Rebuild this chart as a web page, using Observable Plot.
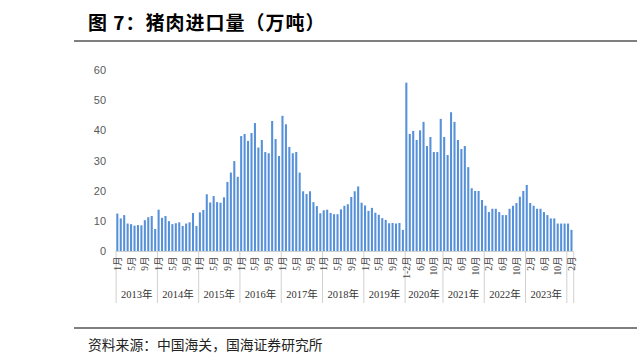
<!DOCTYPE html>
<html>
<head>
<meta charset="utf-8">
<script src="https://cdn.jsdelivr.net/npm/d3@7"></script>
<script src="https://cdn.jsdelivr.net/npm/@observablehq/plot@0.6"></script>
<style>
  html, body { margin: 0; padding: 0; background: #fff; }
  #wrap { position: relative; width: 637px; height: 361px; overflow: hidden; }
  #title { position: absolute; left: 88px; top: 8px; font: bold 19px "Noto Sans CJK SC", sans-serif; letter-spacing: 1px; color: #000; white-space: nowrap; }
  #source { position: absolute; left: 88px; top: 334px; font: 13.8px "Noto Sans CJK SC", sans-serif; color: #222; white-space: nowrap; }
  .hr { position: absolute; left: 74px; width: 563px; height: 0; border-top: 2px solid #7f7f7f; }
  #chart { position: absolute; left: 0; top: 0; }
</style>
</head>
<body>
<div id="wrap">
  <div id="title">图 7：猪肉进口量（万吨）</div>
  <div class="hr" style="top:40px"></div>
  <div id="chart"></div>
  <div class="hr" style="top:327px"></div>
  <div id="source">资料来源：中国海关，国海证券研究所</div>
</div>
<script>
// Year groups and the period labels within each
const years = ["2013年","2014年","2015年","2016年","2017年","2018年","2019年","2020年","2021年","2022年","2023年","2024年"];
const monthsFull = ["1月","2月","3月","4月","5月","6月","7月","8月","9月","10月","11月","12月"];
const months2020 = ["1-2月","3月","4月","5月","6月","7月","8月","9月","10月","11月","12月"];
const months2024 = ["1月","2月"];

// Pork imports (10k tonnes)
const v2013 = [12.4, 10.8, 11.9, 9.1, 8.9, 8.4, 8.6, 8.5, 10.2, 11.2, 11.6, 7.3];
const v2014 = [13.7, 11.0, 11.6, 9.9, 8.9, 9.2, 9.5, 8.3, 9.1, 9.5, 12.6, 8.3];
const v2015 = [12.8, 13.6, 18.8, 16.1, 18.2, 16.2, 16.0, 17.8, 22.9, 26.0, 29.8, 24.6];
const v2016 = [38.1, 38.8, 36.5, 39.1, 42.4, 34.3, 36.8, 32.8, 32.4, 43.1, 37.1, 31.5];
const v2017 = [44.8, 42.0, 34.5, 32.4, 32.8, 26.0, 19.8, 18.9, 19.8, 16.2, 14.9, 12.5];
const v2018 = [13.5, 13.7, 12.6, 12.2, 12.2, 13.8, 15.0, 15.5, 17.9, 19.8, 21.4, 16.0];
const v2019 = [15.1, 13.3, 14.3, 12.7, 12.0, 10.9, 10.3, 9.2, 9.3, 9.1, 9.3, 7.0];
const v2020 = [55.8, 38.8, 39.8, 36.8, 40.0, 42.8, 34.8, 37.8, 32.8, 32.8, 43.8];
const v2021 = [37.8, 31.8, 46.0, 42.8, 36.8, 33.8, 34.8, 27.8, 20.8, 19.9, 19.9, 16.9];
const v2022 = [15.0, 12.9, 14.0, 14.0, 12.9, 11.9, 11.9, 14.0, 15.0, 15.9, 18.0, 19.9];
const v2023 = [21.9, 15.9, 15.0, 14.0, 14.0, 12.9, 11.9, 10.8, 10.8, 9.1, 9.1, 9.1];
const v2024 = [9.1, 7.0];

const yTicks = [0, 10, 20, 30, 40, 50, 60];

const valuesByYear = [v2013, v2014, v2015, v2016, v2017, v2018, v2019, v2020, v2021, v2022, v2023, v2024];
const monthsByYear = years.map((y, k) => k === 7 ? months2020 : k === 11 ? months2024 : monthsFull);

// Build a flat table
const data = [];
const yearSpans = [];
valuesByYear.forEach((vals, k) => {
  const start = data.length;
  vals.forEach((v, j) => data.push({i: data.length, value: v, month: monthsByYear[k][j], year: years[k]}));
  yearSpans.push({year: years[k], start, end: data.length - 1});
});
const monthTicks = data.filter(d => d.i % 4 === 0);
const boundaries = yearSpans.map(s => s.start - 0.5).concat([data.length - 0.5]);
const yearLabelRows = yearSpans.filter(s => s.end - s.start >= 10).map(s => ({year: s.year, mid: (s.start + s.end) / 2}));

const W = 637, H = 361;
const mTop = 70, mBottom = H - 251;
const frameH = H - mTop - mBottom;

const chart = Plot.plot({
  width: W,
  height: H,
  marginTop: mTop,
  marginBottom: mBottom,
  marginLeft: 115.6,
  marginRight: 63.8,
  style: {background: "transparent", fontFamily: "'Liberation Sans', 'Noto Sans CJK SC', sans-serif"},
  x: {type: "linear", domain: [-0.5, data.length - 0.5], axis: null},
  y: {domain: [0, 60], axis: null},
  marks: [
    Plot.axisY({ticks: yTicks, tickSize: 0, tickPadding: 10, fontSize: 11, fill: "#595959", label: null, tickFormat: d => String(d)}),
    Plot.rectY(data, {x1: d => d.i - 0.3, x2: d => d.i + 0.3, y: "value", fill: "#5590d9"}),
    Plot.ruleY([0], {stroke: "#d0d0d0", strokeWidth: 1}),
    Plot.ruleX(boundaries, {x: d => d, stroke: "#d0d0d0", strokeWidth: 1, insetTop: frameH, insetBottom: -52}),
    Plot.text(monthTicks, {x: "i", text: "month", frameAnchor: "bottom", dy: 5, rotate: -90, textAnchor: "end", lineAnchor: "middle", fontSize: 9.5, fill: "#444", fontFamily: "'Liberation Serif', 'Noto Sans CJK SC', serif"}),
    Plot.text(yearLabelRows, {x: "mid", text: "year", frameAnchor: "bottom", dy: 46, fontSize: 10.5, fill: "#333", fontFamily: "'Liberation Serif', 'Noto Sans CJK SC', serif"})
  ]
});
document.getElementById("chart").appendChild(chart);
</script>
</body>
</html>
